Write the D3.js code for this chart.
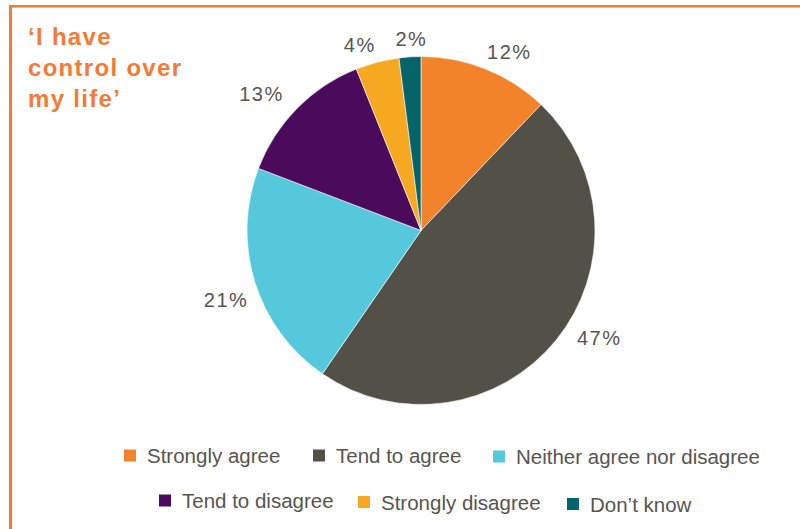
<!DOCTYPE html>
<html>
<head>
<meta charset="utf-8">
<script src="https://cdn.jsdelivr.net/npm/d3@7"></script>
<style>
  html, body { margin: 0; padding: 0; background: #ffffff; }
  svg { display: block; }
  text { font-family: "Liberation Sans", Arial, Helvetica, sans-serif; }
</style>
</head>
<body>
<svg id="chart" width="800" height="529"></svg>
<script>
// Survey answers to "I have control over my life" (percent of respondents)
const categories = ["Strongly agree", "Tend to agree", "Neither agree nor disagree",
                    "Tend to disagree", "Strongly disagree", "Don\u2019t know"];
const values = [12, 47, 21, 13, 4, 2];
const titleLines = ["\u2018I have", "control over", "my life\u2019"];

const colors = ["#f2832a", "#525047", "#55c8dc", "#4b0a5b", "#f6a821", "#05636a"];
const textColor = "#56554e";
const accent = "#f47b35";

const W = 800, H = 529;
const cx = 421, cy = 230.5, radius = 174;

const svg = d3.select("#chart");

// Frame: left and top rules
svg.append("rect").attr("x", 9).attr("y", 5).attr("width", 3).attr("height", H - 5).attr("fill", accent);
svg.append("rect").attr("x", 9).attr("y", 5).attr("width", W - 9).attr("height", 2.5).attr("fill", accent);

// Title
const title = svg.append("text")
  .attr("x", 28)
  .attr("fill", accent)
  .attr("font-size", 24)
  .attr("font-weight", "bold")
  .attr("letter-spacing", 1.3);
title.selectAll("tspan").data(titleLines).join("tspan")
  .attr("x", 28)
  .attr("y", (d, i) => 45 + i * 31)
  .text(d => d);

// Pie
const pie = d3.pie().sort(null).value(d => d.value);
const arcs = pie(categories.map((c, i) => ({ category: c, value: values[i], color: colors[i] })));
const arc = d3.arc().innerRadius(0).outerRadius(radius);

const g = svg.append("g").attr("transform", `translate(${cx},${cy})`);
g.selectAll("path.slice").data(arcs).join("path")
  .attr("class", "slice")
  .attr("d", arc)
  .attr("fill", d => d.data.color)
  .attr("stroke", "#ffffff")
  .attr("stroke-width", 0.6);

// Value labels outside each slice, along its mid angle with small placement nudges
const labelRadius = 200;
const labelNudge = [[14, 7], [23, -19], [-4, 10], [-17, 4], [-11, 8], [3, 8]];
const labelArc = d3.arc().innerRadius(labelRadius).outerRadius(labelRadius);
g.selectAll("text.value").data(arcs).join("text")
  .attr("class", "value")
  .attr("x", (d, i) => labelArc.centroid(d)[0] + labelNudge[i][0])
  .attr("y", (d, i) => labelArc.centroid(d)[1] + labelNudge[i][1])
  .attr("dy", "0.35em")
  .attr("text-anchor", "middle")
  .attr("font-size", 20)
  .attr("letter-spacing", 1.5)
  .attr("fill", textColor)
  .text(d => d.data.value + "%");

// Legend: two rows
const legendPos = [[124, 449.5], [313, 449.5], [493, 450.5],
                   [159, 494.5], [358, 496], [567, 498]];
const legend = svg.selectAll("g.legend").data(arcs).join("g")
  .attr("class", "legend")
  .attr("transform", (d, i) => `translate(${legendPos[i][0]},${legendPos[i][1]})`);
legend.append("rect")
  .attr("width", 12).attr("height", 12)
  .attr("fill", d => d.data.color);
legend.append("text")
  .attr("x", 23)
  .attr("y", 13.5)
  .attr("font-size", 20.5)
  .attr("fill", textColor)
  .text(d => d.data.category);
</script>
</body>
</html>
